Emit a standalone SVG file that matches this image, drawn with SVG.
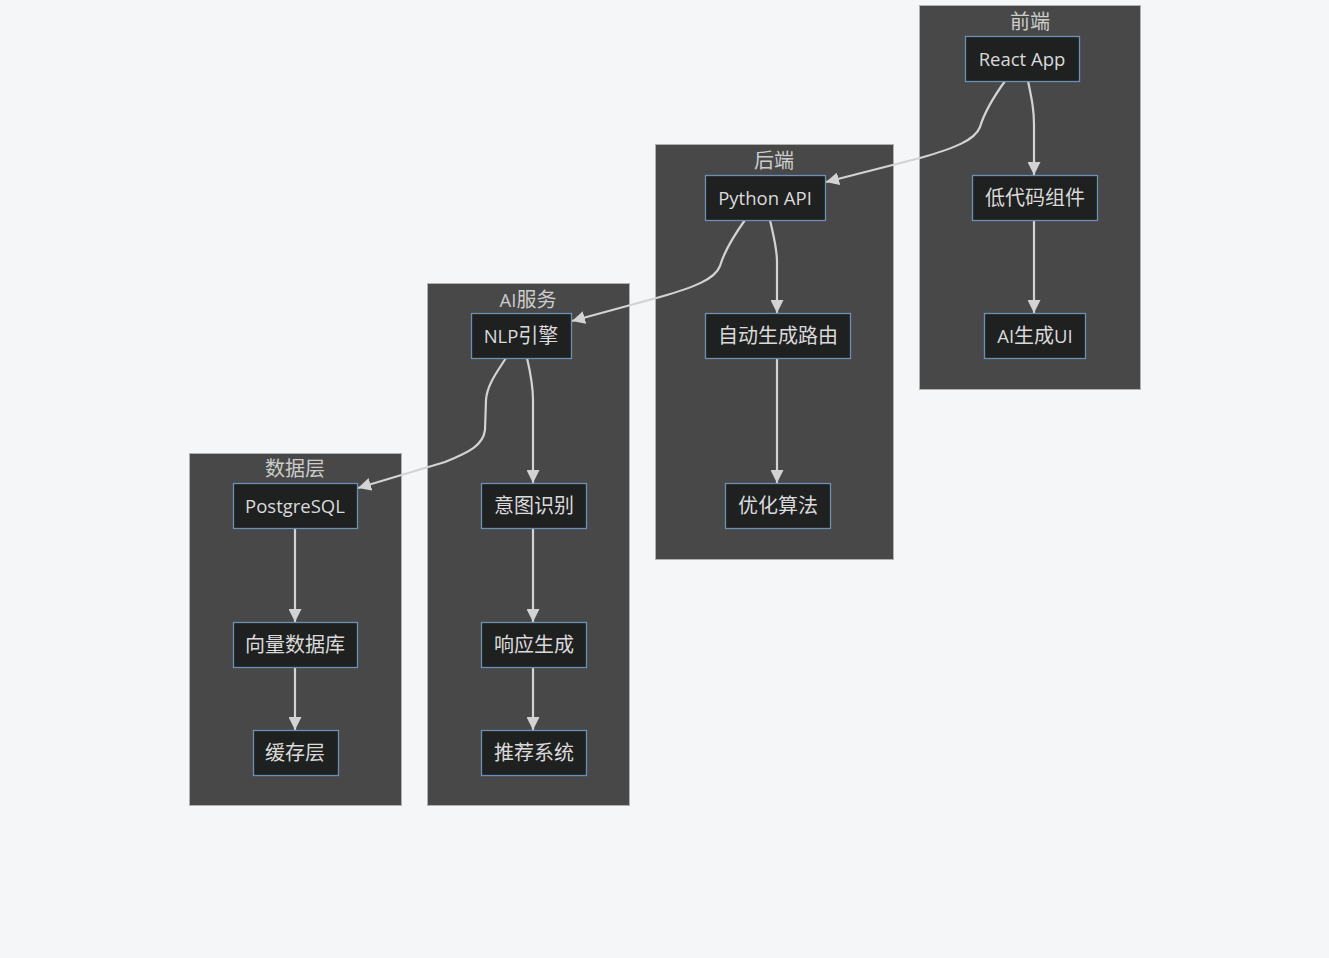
<svg xmlns="http://www.w3.org/2000/svg" width="1329" height="958" viewBox="0 0 1329 958">
<style>
.bg{fill:#f5f6f8}
.cluster rect{fill:#484848;stroke:#b0b0b0;stroke-width:1}
.ctitle{fill:#cccccc;font-family:"Open Sans","Noto Sans CJK SC",sans-serif;font-size:18.5px;text-anchor:middle;dominant-baseline:central}
.node rect{fill:#1f2020;stroke:#6a90b6;stroke-width:1.3}
.node text{fill:#dadada;font-family:"Open Sans","Noto Sans CJK SC",sans-serif;font-size:18.5px;text-anchor:middle;dominant-baseline:central}
.node text.cjk,.node .cjk,.ctitle.cjk,.ctitle .cjk{font-size:20px}
.edge{fill:none;stroke:#d3d3d3;stroke-width:2.2;marker-end:url(#arrow)}
</style>
<defs>
<marker id="arrow" viewBox="0 0 13 13" refX="13" refY="6.5" markerWidth="13" markerHeight="13" markerUnits="userSpaceOnUse" orient="auto">
<path d="M0,0 L13,6.5 L0,13 z" fill="#d3d3d3"/>
</marker>
</defs>
<rect class="bg" x="0" y="0" width="1329" height="958"/>

<g id="cluster-frontend" class="cluster">
<rect x="919.5" y="5.5" width="221" height="384"/>
<text class="ctitle cjk" x="1030" y="21">前端</text>
</g>
<g id="cluster-backend" class="cluster">
<rect x="655.5" y="144.5" width="238" height="415"/>
<text class="ctitle cjk" x="774" y="160">后端</text>
</g>
<g id="cluster-ai" class="cluster">
<rect x="427.5" y="283.5" width="202" height="522"/>
<text class="ctitle" x="528" y="299">AI<tspan class="cjk">服务</tspan></text>
</g>
<g id="cluster-data" class="cluster">
<rect x="189.5" y="453.5" width="212" height="352"/>
<text class="ctitle cjk" x="295" y="468">数据层</text>
</g>

<g id="connectors">
<path class="edge" d="M1005,81 C995,95 985,110 980,127 C975,140 955,148 920,158 L826,182"/>
<path class="edge" d="M1028,81 C1032,100 1034,110 1034,125 L1034,175"/>
<path class="edge" d="M1034,220 L1034,313"/>
<path class="edge" d="M745,220 C735,234 725,249 720,266 C715,279 695,287 660,297 L572,321"/>
<path class="edge" d="M770,220 C774,238 777,248 777,262 L777,313"/>
<path class="edge" d="M777,358 L777,483"/>
<path class="edge" d="M506,358 C497,372 487,385 486,400 L485,430 C483,445 470,452 445,462 L358,488"/>
<path class="edge" d="M527,358 C531,375 533,385 533,400 L533,483"/>
<path class="edge" d="M533,528 L533,622"/>
<path class="edge" d="M533,667 L533,730"/>
<path class="edge" d="M295,528 L295,622"/>
<path class="edge" d="M295,667 L295,730"/>
</g>

<g id="node-react" class="node"><rect x="965.5" y="36.5" width="114" height="45"/><text x="1022" y="58">React App</text></g>
<g id="node-lowcode" class="node"><rect x="972.5" y="175.5" width="125" height="45"/><text class="cjk" x="1035" y="197">低代码组件</text></g>
<g id="node-aiui" class="node"><rect x="984.5" y="313.5" width="101" height="45"/><text x="1035" y="335">AI<tspan class="cjk">生成</tspan>UI</text></g>
<g id="node-python" class="node"><rect x="705.5" y="175.5" width="120" height="45"/><text x="765" y="197">Python API</text></g>
<g id="node-route" class="node"><rect x="705.5" y="313.5" width="145" height="45"/><text class="cjk" x="778" y="335">自动生成路由</text></g>
<g id="node-opt" class="node"><rect x="725.5" y="483.5" width="105" height="45"/><text class="cjk" x="778" y="505">优化算法</text></g>
<g id="node-nlp" class="node"><rect x="471.5" y="313.5" width="100" height="45"/><text x="521" y="335">NLP<tspan class="cjk">引擎</tspan></text></g>
<g id="node-intent" class="node"><rect x="481.5" y="483.5" width="105" height="45"/><text class="cjk" x="534" y="505">意图识别</text></g>
<g id="node-resp" class="node"><rect x="481.5" y="622.5" width="105" height="45"/><text class="cjk" x="534" y="644">响应生成</text></g>
<g id="node-rec" class="node"><rect x="481.5" y="730.5" width="105" height="45"/><text class="cjk" x="534" y="752">推荐系统</text></g>
<g id="node-pg" class="node"><rect x="233.5" y="483.5" width="124" height="45"/><text x="295" y="505">PostgreSQL</text></g>
<g id="node-vec" class="node"><rect x="233.5" y="622.5" width="124" height="45"/><text class="cjk" x="295" y="644">向量数据库</text></g>
<g id="node-cache" class="node"><rect x="253.5" y="730.5" width="85" height="45"/><text class="cjk" x="295" y="752">缓存层</text></g>
</svg>
